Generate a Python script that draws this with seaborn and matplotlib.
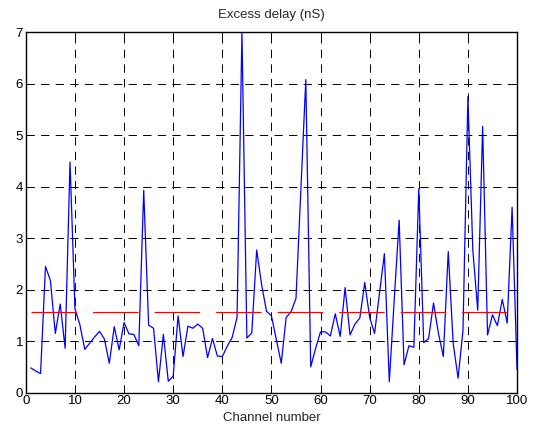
import numpy as np
import pandas as pd
import matplotlib
matplotlib.use("Agg")
from matplotlib import pyplot as plt
import seaborn as sns

# excess delay per channel
channel = list(range(1, 101))
delay = [0.48, 0.42, 0.37, 2.45, 2.18, 1.15, 1.72, 0.86, 4.48, 1.63,
         1.32, 0.84, 0.96, 1.08, 1.19, 1.04, 0.57, 1.28, 0.83, 1.36,
         1.14, 1.13, 0.91, 3.93, 1.31, 1.25, 0.21, 1.13, 0.22, 0.32,
         1.49, 0.70, 1.29, 1.25, 1.33, 1.25, 0.68, 1.05, 0.71, 0.70,
         0.90, 1.07, 1.46, 7.00, 1.06, 1.16, 2.77, 2.10, 1.58, 1.49,
         1.03, 0.57, 1.46, 1.57, 1.83, 3.95, 6.08, 0.50, 0.86, 1.18,
         1.18, 1.10, 1.53, 1.09, 2.04, 1.12, 1.33, 1.45, 2.14, 1.46,
         1.15, 1.93, 2.70, 0.21, 1.80, 3.35, 0.54, 0.91, 0.88, 3.96,
         0.97, 1.05, 1.74, 1.15, 0.70, 2.74, 0.96, 0.28, 1.21, 5.75,
         2.77, 1.60, 5.17, 1.12, 1.51, 1.30, 1.81, 1.35, 3.60, 0.45]
mean_delay = 1.57

xticks = list(range(0, 101, 10))
yticks = list(range(0, 8))

sns.set_style("white")
plt.rcParams['font.family'] = ['Liberation Sans', 'DejaVu Sans']
plt.rcParams['lines.scale_dashes'] = False

df = pd.DataFrame({'channel': channel, 'delay': delay})
df['mean'] = mean_delay

fig = plt.figure(figsize=(5.38, 4.30), dpi=100)
ax = fig.add_axes([0.048, 0.087, 0.913, 0.838])

sns.lineplot(data=df, x='channel', y='delay', color=(0, 0, 1), lw=0.9, ax=ax)
sns.lineplot(data=df, x='channel', y='mean', color=(1, 0, 0), lw=0.8, ax=ax,
             linestyle=(0, (32.8, 11.5)))

ax.set_xlim(0, 100)
ax.set_ylim(0, 7)
ax.set_xticks(xticks)
ax.set_yticks(yticks)
ax.set_title('Excess delay (nS)', fontsize=9.5, pad=10)
ax.set_xlabel('Channel number', fontsize=9.5, labelpad=3)
ax.set_ylabel('')
ax.grid(True, color='black', linestyle=(0, (6.0, 4.5)), linewidth=0.7)
ax.tick_params(direction='in', length=4, width=0.7, labelsize=9.5, pad=2,
               top=True, right=True, colors='black')
for s in ax.spines.values():
    s.set_visible(True)
    s.set_color('black')
    s.set_linewidth(1.0)

fig.savefig('out.png', dpi=100, facecolor='white')
